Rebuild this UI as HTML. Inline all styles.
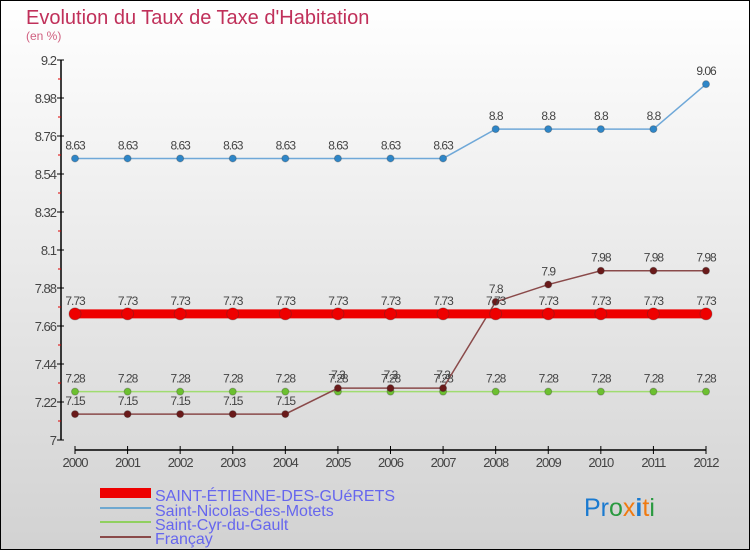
<!DOCTYPE html>
<html><head><meta charset="utf-8"><style>
html,body{margin:0;padding:0}
body{width:750px;height:550px;overflow:hidden}
svg text{font-family:"Liberation Sans",sans-serif}
</style></head><body>
<svg id="chart" width="750" height="550" xmlns="http://www.w3.org/2000/svg">
<defs><linearGradient id="bg" x1="0" y1="0" x2="0" y2="1"><stop offset="0" stop-color="#ffffff"/><stop offset="1" stop-color="#d2d2d2"/></linearGradient></defs>
<rect x="0.5" y="0.5" width="749" height="549" fill="url(#bg)" stroke="#000"/>
<text x="26" y="24" font-size="20" fill="#c0305a">Evolution du Taux de Taxe d'Habitation</text>
<text x="26" y="40" font-size="12" fill="#d06080">(en %)</text>
<g id="axes"></g>
<g id="series"></g>
<g id="legend">
<rect x="100" y="488" width="51" height="10" fill="#ee0000"/>
<text x="155" y="501" font-size="16" fill="#6666ee">SAINT-ÉTIENNE-DES-GUéRETS</text>
<rect x="100" y="507" width="51" height="2" fill="#6fa8d0"/>
<text x="155" y="516" font-size="16" fill="#6666ee">Saint-Nicolas-des-Motets</text>
<rect x="100" y="521" width="51" height="2" fill="#90d060"/>
<text x="155" y="530" font-size="16" fill="#6666ee">Saint-Cyr-du-Gault</text>
<rect x="100" y="536" width="51" height="2" fill="#8a4a4a"/>
<text x="155" y="544" font-size="16" fill="#6666ee">Françay</text>
</g>
<g font-size="25">
<text x="584" y="516"><tspan fill="#1a7ad0">Pr</tspan><tspan fill="#2a9a40">o</tspan><tspan fill="#f07a10">x</tspan><tspan fill="#1a7ad0" font-weight="bold">i</tspan><tspan fill="#f07a10">t</tspan><tspan fill="#2a9a40">i</tspan></text>
</g>
</svg>
<script>
const years=[2000,2001,2002,2003,2004,2005,2006,2007,2008,2009,2010,2011,2012];
const yTicks=[7,7.22,7.44,7.66,7.88,8.1,8.32,8.54,8.76,8.98,9.2];
const yTickLabels=["7","7.22","7.44","7.66","7.88","8.1","8.32","8.54","8.76","8.98","9.2"];
const stEtienne=[7.73,7.73,7.73,7.73,7.73,7.73,7.73,7.73,7.73,7.73,7.73,7.73,7.73];
const stNicolas=[8.63,8.63,8.63,8.63,8.63,8.63,8.63,8.63,8.8,8.8,8.8,8.8,9.06];
const stCyr=[7.28,7.28,7.28,7.28,7.28,7.28,7.28,7.28,7.28,7.28,7.28,7.28,7.28];
const francay=[7.15,7.15,7.15,7.15,7.15,7.3,7.3,7.3,7.8,7.9,7.98,7.98,7.98];
const NS="http://www.w3.org/2000/svg";
const x=i=>75+i*(706-75)/12;
const y=v=>440-(v-7)/2.2*380;
function mk(tag,attrs,parent){const e=document.createElementNS(NS,tag);for(const k in attrs)e.setAttribute(k,attrs[k]);parent.appendChild(e);return e;}
const axes=document.getElementById('axes');
let a=mk('line',{x1:61,y1:y(9.2),x2:61,y2:440,stroke:'#000','stroke-width':1.5},axes);


yTicks.forEach((v,i)=>{
  mk('line',{x1:57,y1:y(v),x2:64,y2:y(v),stroke:'#000'},axes);
  if(i<yTicks.length-1)mk('line',{x1:58,y1:y(v+0.11),x2:61,y2:y(v+0.11),stroke:'#d00'},axes);
  const t=mk('text',{x:56,y:y(v)+5,'text-anchor':'end','font-size':13,fill:'#444','letter-spacing':'-1'},axes);
  t.textContent=yTickLabels[i];
  
  
});
a=mk('line',{x1:x(0),y1:450,x2:x(12),y2:450,stroke:'#000','stroke-width':1.5},axes);


years.forEach((yr,i)=>{
  mk('line',{x1:x(i),y1:446,x2:x(i),y2:454,stroke:'#000'},axes);
  const t=mk('text',{x:x(i),y:467,'text-anchor':'middle','font-size':13,fill:'#444','letter-spacing':'-1'},axes);
  t.textContent=String(yr);
  
  
});
const sg=document.getElementById('series');
function series(vals,color,dot,w,r,name){
  const g=mk('g',{},sg);
  
  
  mk('polyline',{points:vals.map((v,i)=>x(i)+','+y(v)).join(' '),fill:'none',stroke:color,'stroke-width':w},g);
  vals.forEach((v,i)=>{
    const c=mk('circle',{cx:x(i),cy:y(v),r:r,fill:dot,stroke:'#333','stroke-opacity':0.3},g);
    
    
    const t=mk('text',{x:x(i),y:y(v)-9,'text-anchor':'middle','font-size':12,fill:'#444','letter-spacing':'-1'},g);
    t.textContent=String(v);
    
    
  });
}
series(stNicolas,'#6fa8d8','#2e86c8',1.5,3.5,'saint-nicolas-series');
series(stCyr,'#a0dc70','#6cc030',1.5,3.5,'saint-cyr-series');
series(francay,'#8a4a4a','#6a1a1a',1.5,3.5,'francay-series');
series(stEtienne,'#ee0000','#ee0000',9,6,'saint-etienne-series');
</script>
</body></html>
